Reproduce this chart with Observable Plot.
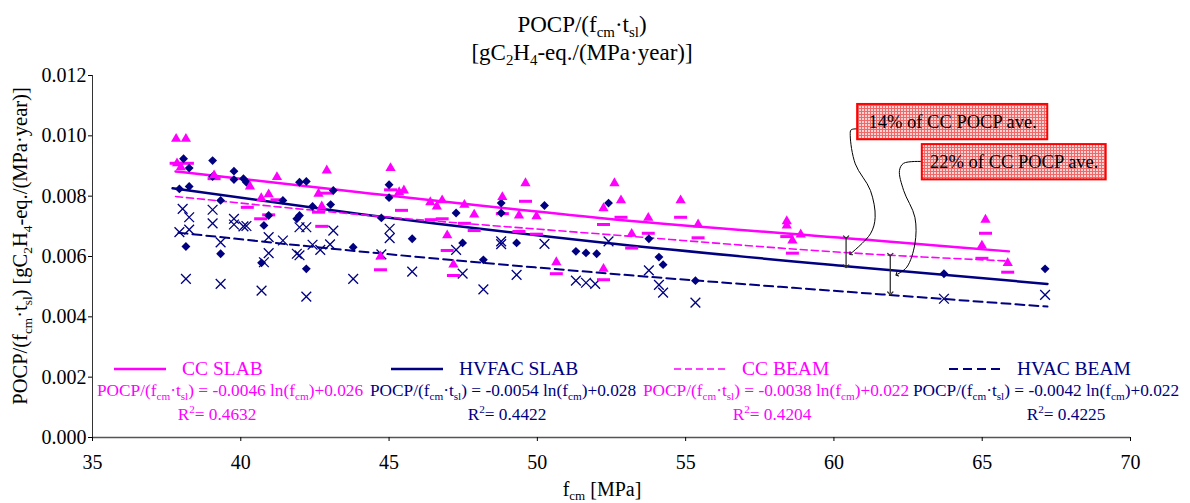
<!DOCTYPE html>
<html><head><meta charset="utf-8">
<script src="https://cdn.jsdelivr.net/npm/d3@7"></script>
<script src="https://cdn.jsdelivr.net/npm/@observablehq/plot@0.6"></script>
<style>
body{margin:0;background:#fff;}
#chart{width:1190px;height:503px;}
</style></head><body><div id="chart"></div>
<script>
// ---------- data ----------
const xTicks = [35, 40, 45, 50, 55, 60, 65, 70];
const yTicks = [0, 0.002, 0.004, 0.006, 0.008, 0.010, 0.012];

const seriesNames = ["CC SLAB", "HVFAC SLAB", "CC BEAM", "HVAC BEAM"];
const fitCoef = [-0.0046, -0.0054, -0.0038, -0.0042];
const fitIntercept = [0.026, 0.028, 0.022, 0.022];
const fitR2 = [0.4632, 0.4422, 0.4204, 0.4225];

// CC SLAB (triangles)
const ccSlab = [[37.82,0.0099],[38.15,0.0099],[37.85,0.00909],[37.98,0.00896],[39.1,0.00869],[40.31,0.00832],[41.22,0.00863],[40.69,0.00793],[40.94,0.00806],[42.9,0.00885],[42.62,0.00808],[42.73,0.00766],
[45.05,0.00893],[45.34,0.00813],[45.5,0.00819],[46.39,0.0078],[46.61,0.00766],[46.79,0.00786],[47.54,0.00771],[47.87,0.00739],[46.96,0.0067],[47.17,0.00573],[44.71,0.006],[48.82,0.00797],[49.6,0.00843],[49.38,0.00736],[49.97,0.00733],[50.64,0.00581],
[52.6,0.00843],[52.82,0.00786],[52.23,0.0076],[53.74,0.00728],[53.18,0.00675],[54.83,0.00786],[55.42,0.00706],[52.23,0.00559],[58.41,0.00717],[58.41,0.00703],[58.88,0.00673],[58.6,0.00653],
[65.11,0.00722],[64.99,0.00636],[65.86,0.00578]];
// HVFAC SLAB (diamonds)
const hvfacSlab = [[38.07,0.00924],[38.26,0.00893],[39.05,0.00918],[39.05,0.00865],[39.77,0.00883],[39.77,0.00855],[40.09,0.00858],[40.19,0.00846],[41.98,0.00846],[42.21,0.00849],[43.12,0.00819],[37.93,0.00824],[38.26,0.00832],[39.32,0.00786],[41.42,0.00786],[40.94,0.00736],[42.42,0.00766],[43.03,0.00772],[41.98,0.00736],[41.89,0.00725],[40.78,0.00703],[38.15,0.00633],[39.32,0.00609],[40.7,0.00579],[42.21,0.00559],[43.79,0.00631],
[45.0,0.00838],[45.0,0.00795],[44.74,0.00728],[45.78,0.00659],[47.26,0.00744],[47.48,0.00645],[48.18,0.00589],[48.78,0.00777],[48.78,0.00744],[49.3,0.00645],[50.24,0.00769],[51.3,0.00617],[51.64,0.00612],[52.0,0.00609],
[52.4,0.00777],[53.76,0.00659],[54.1,0.00598],[54.24,0.00573],[55.33,0.0052],
[63.71,0.00543],[67.12,0.00559]];
// CC BEAM (dashes)
const ccBeam = [[37.82,0.00909],[38.2,0.00909],[39.1,0.00858],[40.22,0.00763],[40.67,0.00725],[40.94,0.00738],[41.22,0.00788],[42.73,0.007],[42.9,0.0081],[42.62,0.00747],
[45.05,0.00821],[45.42,0.00753],[44.71,0.00556],[46.42,0.00722],[46.79,0.00725],[46.96,0.0062],[47.17,0.00537],[47.87,0.00686],[47.54,0.0071],[48.82,0.00742],[49.6,0.00783],[49.38,0.00683],[49.97,0.00674],[50.64,0.00543],
[52.23,0.00706],[52.82,0.0073],[53.18,0.00628],[53.74,0.00677],[54.83,0.0073],[55.42,0.00662],[52.23,0.00523],[58.41,0.00666],[58.6,0.00611],
[65.11,0.00677],[64.99,0.00594],[65.86,0.00548]];
// HVAC BEAM (x marks)
const hvacBeam = [[38.04,0.00758],[38.26,0.0073],[39.05,0.00755],[39.05,0.0071],[39.77,0.00725],[39.77,0.00706],[40.09,0.007],[40.19,0.00701],[37.93,0.00681],[38.26,0.00689],[39.32,0.00647],[40.94,0.00664],[40.94,0.00611],[41.42,0.00653],[41.98,0.00697],[42.21,0.00697],[43.12,0.00686],[41.89,0.00609],[41.98,0.00604],[42.42,0.00639],[42.68,0.00622],[43.01,0.0064],[40.78,0.00581],[38.15,0.00526],[39.32,0.00509],[40.7,0.00487],[42.21,0.00467],[43.79,0.00526],
[45.02,0.00692],[45.02,0.00661],[44.74,0.00607],[45.78,0.0055],[47.26,0.00622],[47.48,0.00543],[48.18,0.00491],[48.78,0.0065],[48.78,0.00641],[49.3,0.00539],[50.24,0.00642],[51.3,0.0052],[51.64,0.00513],[51.95,0.00509],
[52.4,0.0065],[53.76,0.00554],[54.1,0.00506],[54.24,0.0048],[55.33,0.00447],
[63.71,0.0046],[67.12,0.00473]];

// trend lines
const ccSlabFit = [[37.8,0.00882],[44.0,0.00813],[52.1,0.00728],[61.4,0.00653],[65.9,0.00617]];
const hvfacSlabFit = [[37.7,0.00826],[44.0,0.00741],[52.1,0.00647],[60.4,0.00568],[67.2,0.00509]];
const ccBeamFit = [[37.8,0.00799],[44.0,0.00739],[52.1,0.00675],[61.4,0.00607],[65.9,0.00585]];
const hvacBeamFit = [[37.9,0.00679],[44.0,0.00617],[52.1,0.00546],[61.4,0.00476],[67.2,0.00434]];

// annotations
const calloutText = ["14% of CC POCP ave.", "22% of CC POCP ave."];
const calloutBox = [{x1:60.80,x2:67.21,y1:0.00987,y2:0.01104},{x1:62.98,x2:69.18,y1:0.00854,y2:0.00971}];
const gapArrows = [{x:60.41,y1:0.00664,y2:0.00568},{x:61.9,y1:0.00606,y2:0.00478}];
const connector1 = [[60.80,0.01023],[60.58,0.0102],[60.55,0.01001],[60.72,0.00907],[61.23,0.00819],[61.39,0.0073],[61.23,0.00675],[60.56,0.00609]];
const connector2 = [[62.98,0.00915],[62.35,0.00909],[62.21,0.00885],[62.35,0.00819],[62.73,0.0073],[62.73,0.00642],[62.46,0.00565],[62.12,0.0054]];

// ---------- drawing ----------
const MAG = "#ff00ff", NAVY = "#000080";
const FONT = "'Liberation Serif', 'Times New Roman', serif";
const dashSym = {draw(ctx){ ctx.moveTo(-6.5,0); ctx.lineTo(6.5,0); }};
const X = d => d[0], Y = d => d[1];

const plot = Plot.plot({
  width: 1190, height: 503,
  marginLeft: 92, marginRight: 60, marginTop: 75, marginBottom: 66,
  style: {fontFamily: FONT, fontSize: "20px", color: "#000", background: "#fff"},
  x: {domain: [35, 70]},
  y: {domain: [0, 0.012]},
  marks: [
    Plot.line(ccSlabFit, {x: X, y: Y, stroke: MAG, strokeWidth: 2.5, curve: "monotone-x"}),
    Plot.line(hvfacSlabFit, {x: X, y: Y, stroke: NAVY, strokeWidth: 2.5, curve: "monotone-x"}),
    Plot.line(ccBeamFit, {x: X, y: Y, stroke: MAG, strokeWidth: 1.6, strokeDasharray: "7,4", curve: "monotone-x"}),
    Plot.line(hvacBeamFit, {x: X, y: Y, stroke: NAVY, strokeWidth: 2, strokeDasharray: "9,5", curve: "monotone-x"}),
    Plot.dot(hvacBeam, {x: X, y: Y, symbol: "times", r: 4.5, stroke: NAVY, strokeWidth: 1.3, fill: "none"}),
    Plot.dot(ccBeam, {x: X, y: Y, symbol: dashSym, r: 4, stroke: MAG, strokeWidth: 3, fill: "none"}),
    Plot.dot(hvfacSlab, {x: X, y: Y, symbol: "diamond2", r: 4, fill: NAVY, stroke: "none"}),
    Plot.dot(ccSlab, {x: X, y: Y, symbol: "triangle", r: 3.8, fill: MAG, stroke: "none"}),
    Plot.link(gapArrows, {x1: "x", x2: "x", y1: "y1", y2: "y2", stroke: "#333", strokeWidth: 1.3, markerStart: "arrow", markerEnd: "arrow"}),
    Plot.line(connector1, {x: X, y: Y, stroke: "#000", strokeWidth: 1, curve: "catmull-rom", markerEnd: "arrow"}),
    Plot.line(connector2, {x: X, y: Y, stroke: "#000", strokeWidth: 1, curve: "catmull-rom", markerEnd: "arrow"}),
    Plot.rect(calloutBox, {x1: "x1", x2: "x2", y1: "y1", y2: "y2", fill: "#f7b5b5", stroke: "#ff0000", strokeWidth: 2}),
    Plot.text(calloutText, {x: (d, i) => (calloutBox[i].x1 + calloutBox[i].x2) / 2, y: (d, i) => (calloutBox[i].y1 + calloutBox[i].y2) / 2, text: d => d, fontSize: 18.5, fill: "#000"}),
    Plot.ruleY([0], {stroke: "#555", strokeWidth: 1.5}),
    Plot.ruleX([35], {stroke: "#333", strokeWidth: 1}),
    Plot.axisX({ticks: xTicks, tickSize: 4, tickPadding: 13, label: null, fontSize: 20}),
    Plot.axisY({ticks: yTicks, tickFormat: d3.format(".3f"), tickSize: 4, tickPadding: 2, label: null, fontSize: 20})
  ]
});
document.getElementById("chart").appendChild(plot);

const svg = d3.select(plot);
// grid pattern for the callout boxes
const defs = svg.insert("defs", ":first-child");
const pat = defs.append("pattern").attr("id", "pinkgrid").attr("width", 3).attr("height", 3).attr("patternUnits", "userSpaceOnUse");
pat.append("rect").attr("width", 3).attr("height", 3).attr("fill", "#fdd2d2");
pat.append("path").attr("d", "M0,0.5H3M0.5,0V3").attr("stroke", "#ee6a6a").attr("stroke-width", 1);
svg.selectAll('[fill="#f7b5b5"]').attr("fill", "url(#pinkgrid)");

function rich(x, y, parts, size, color, anchor, rotate) {
  const t = svg.append("text").attr("x", x).attr("y", y).attr("font-size", size)
    .attr("fill", color).attr("text-anchor", anchor || "middle").attr("font-family", FONT);
  if (rotate) t.attr("transform", `rotate(${rotate},${x},${y})`);
  let shift = 0;
  for (const [s, k] of parts) {
    const target = k === "sub" ? 0.22 * size : k === "sup" ? -0.38 * size : 0;
    const fs = k ? size * 0.65 : size;
    t.append("tspan").attr("dy", target - shift).attr("font-size", fs).text(s);
    shift = target;
  }
  return t;
}
const pocp = [["POCP/(f"], ["cm", "sub"], ["·t"], ["sl", "sub"], [")"]];
const unit = [["[gC"], ["2", "sub"], ["H"], ["4", "sub"], ["-eq./(MPa·year)]"]];

// title
rich(582, 32, pocp, 23, "#000");
rich(582, 60, unit, 23, "#000");
// axis titles
rich(27, 246, [...pocp, [" "], ...unit], 20.5, "#000", "middle", -90);
rich(602, 496, [["f"], ["cm", "sub"], [" [MPa]"]], 20, "#000");

// legend
const legColor = [MAG, NAVY, MAG, NAVY];
const legWidth = [2.5, 2.5, 1.6, 2];
const legDash = [null, null, "7,4", "9,5"];
const legNameX = [182, 459, 742, 1017];
const legEqX = [230, 503, 776, 1046];
const legR2X = [217, 507, 772, 1066];
seriesNames.forEach((name, i) => {
  svg.append("line").attr("x1", legNameX[i] - 68).attr("x2", legNameX[i] - 16)
    .attr("y1", 369).attr("y2", 369).attr("stroke", legColor[i]).attr("stroke-width", legWidth[i])
    .attr("stroke-dasharray", legDash[i]);
  svg.append("text").attr("x", legNameX[i]).attr("y", 375).attr("font-size", 19.5)
    .attr("text-anchor", "start").attr("font-family", FONT).attr("fill", legColor[i]).text(name);
  rich(legEqX[i], 396, [...pocp, [` = ${fitCoef[i]} ln(f`], ["cm", "sub"], [`)+${fitIntercept[i]}`]], 17.3, legColor[i]);
  rich(legR2X[i], 420, [["R"], ["2", "sup"], [`= ${fitR2[i]}`]], 17.3, legColor[i]);
});
</script>
</body></html>
